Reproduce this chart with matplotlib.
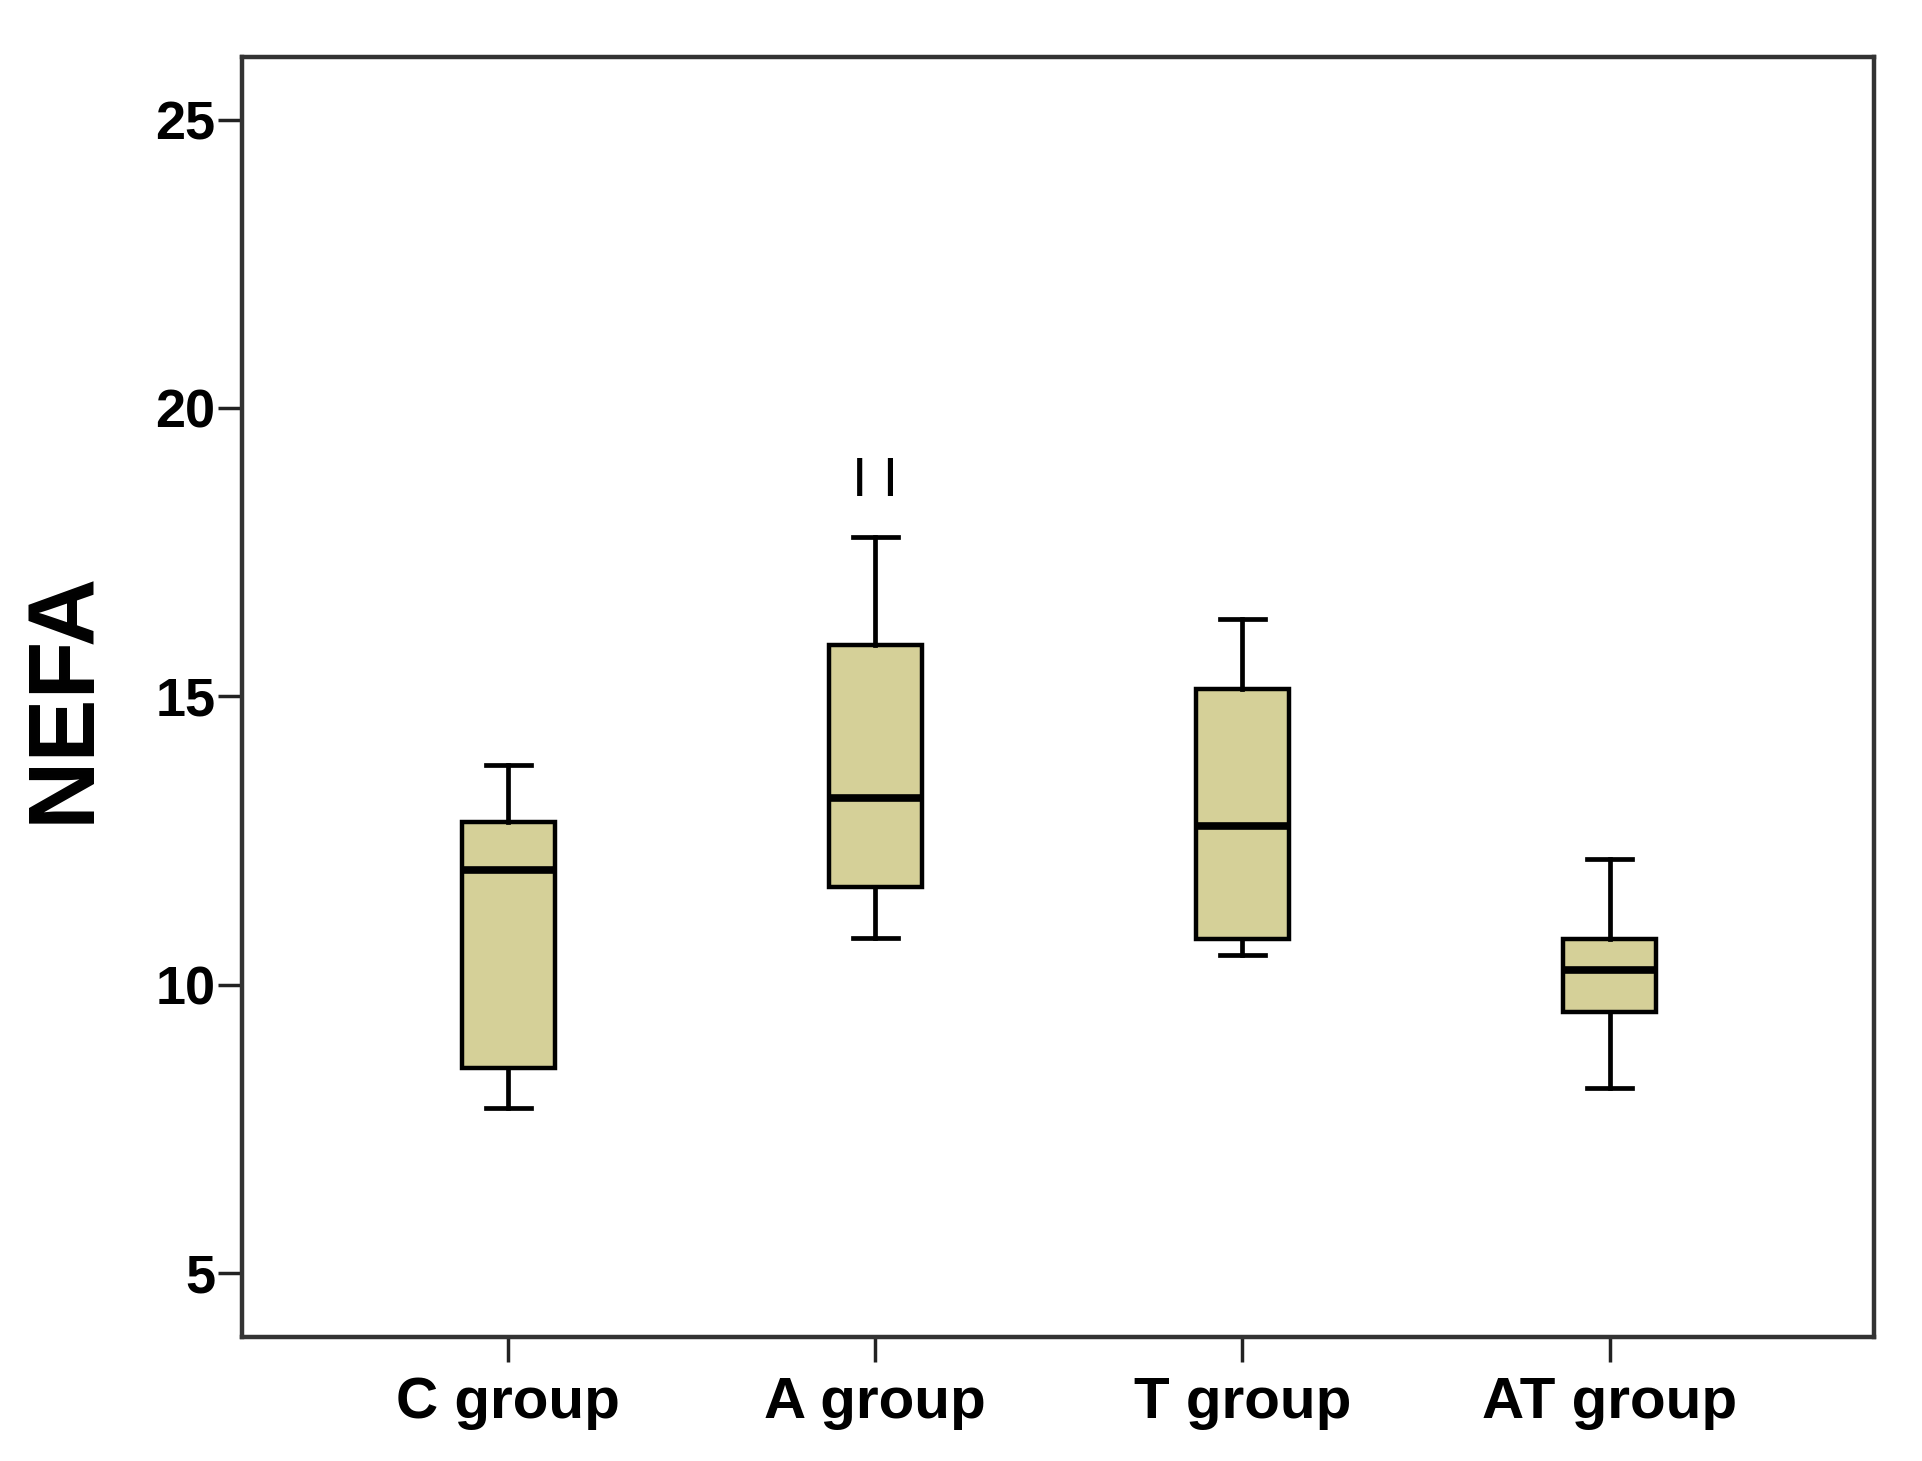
import matplotlib
matplotlib.use('Agg')
import matplotlib.pyplot as plt

# group statistics
groups = ['C group', 'A group', 'T group', 'AT group']
whis_lo = [7.86, 10.81, 10.52, 8.21]
q1 = [8.56, 11.70, 10.79, 9.53]
median = [11.99, 13.24, 12.75, 10.26]
q3 = [12.82, 15.89, 15.13, 10.79]
whis_hi = [13.81, 17.77, 16.34, 12.18]

yticks = [5, 10, 15, 20, 25]
mark_text = 'I I'
mark_group = 2
mark_y = 18.72

plt.rcParams['font.family'] = ['Liberation Sans', 'DejaVu Sans']

stats = []
for i in range(len(groups)):
    stats.append({'label': groups[i], 'whislo': whis_lo[i], 'q1': q1[i],
                  'med': median[i], 'q3': q3[i], 'whishi': whis_hi[i],
                  'fliers': []})

fig = plt.figure(figsize=(19.22, 14.61), dpi=100)
ax = fig.add_axes([0.1259, 0.0849, 0.8491, 0.8761])

ax.bxp(stats, positions=range(1, len(groups) + 1), widths=0.253,
       capwidths=0.123, patch_artist=True, showfliers=False,
       boxprops=dict(facecolor='#d5d098', edgecolor='black', linewidth=3.2),
       medianprops=dict(color='black', linewidth=5.5, solid_capstyle='butt'),
       whiskerprops=dict(color='black', linewidth=3.4),
       capprops=dict(color='black', linewidth=3.4))

ax.text(mark_group, mark_y, mark_text, ha='center', va='center',
        fontsize=40, color='black')

ax.set_xlim(0.275, 4.72)
ax.set_ylim(3.89, 26.09)
ax.set_yticks(yticks)
ax.set_yticklabels([str(t) for t in yticks], fontsize=39, fontweight='bold')
ax.set_xticks(range(1, len(groups) + 1))
ax.set_xticklabels(groups, fontsize=42, fontweight='bold')
ax.tick_params(axis='y', length=17, width=2.5, pad=2, color='#222222')
ax.tick_params(axis='x', length=18, width=2.5, pad=10, color='#222222')

for side in ax.spines.values():
    side.set_linewidth(3.2)
    side.set_color('#333333')

ax.set_ylabel('NEFA', fontsize=68, fontweight='bold')
ax.yaxis.set_label_coords(-0.082, 0.5)

fig.savefig('out.png', dpi=100)
